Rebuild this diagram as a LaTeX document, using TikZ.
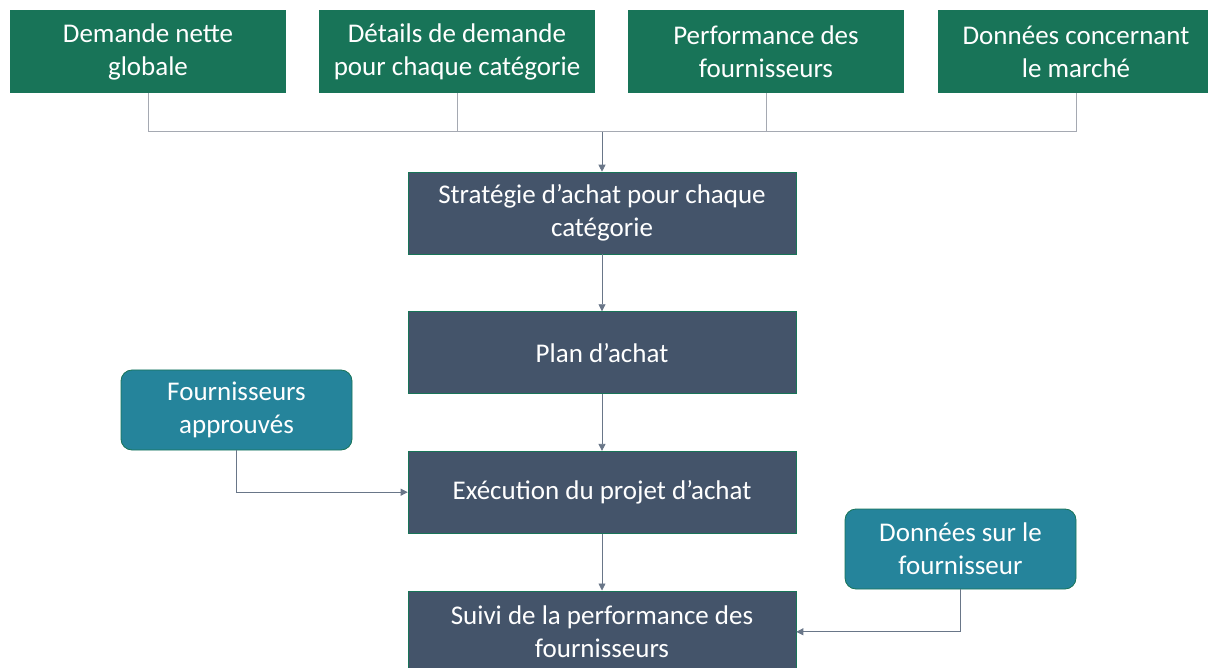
\documentclass[tikz,border=0pt]{standalone}
\usepackage{fontspec}
\setmainfont{Carlito}
\usetikzlibrary{arrows.meta}
\usetikzlibrary{positioning}

\definecolor{topgreen}{RGB}{24,116,88}
\definecolor{slate}{RGB}{68,84,106}
\definecolor{teal}{RGB}{37,132,155}
\definecolor{busgray}{RGB}{165,169,178}

\begin{document}
\begin{tikzpicture}[
	x = 1pt, y = 1pt,
	> = {Triangle[length=7pt, width=7pt]}, % arrow head style
	font = \fontsize{27}{33}\selectfont,
	text = white,
	align = center
	]

	\tikzstyle{source}=[
	fill = topgreen,
	minimum width = 276pt,
	minimum height = 83pt,
	inner sep = 0pt
	]
	\tikzstyle{step box}=[
	fill = slate,
	draw = topgreen,
	line width = 0.6pt,
	minimum width = 388pt,
	minimum height = 82pt,
	inner sep = 0pt
	]
	\tikzstyle{input}=[
	fill = teal,
	draw = topgreen,
	line width = 0.8pt,
	rounded corners = 11pt,
	minimum width = 231pt,
	minimum height = 80pt,
	inner sep = 0pt
	]
	\tikzstyle{bus}=[draw = busgray, line width = 1pt]
	\tikzstyle{flow}=[draw = slate!80, line width = 0.8pt, ->]

	\useasboundingbox (0,0) rectangle (1208,-668);

	% top row of inputs
	\node[source] (demand) at (148,-51.5) {Demande nette\\globale};
	\node[source] (details) at (457,-51.5) {Détails de demande\\pour chaque catégorie};
	\node[source] (perf) at (766,-51.5) {Performance des\\fournisseurs};
	\node[source] (market) at (1076,-51.5) {Données concernant\\le marché};

	% main column
	\node[step box] (strategy) at (602,-213) {Stratégie d’achat pour chaque\\catégorie};
	\node[step box] (plan) [below=57pt of strategy] {Plan d’achat};
	\node[step box] (exec) [below=57pt of plan] {Exécution du projet d’achat};
	\node[step box] (follow) [below=57pt of exec] {Suivi de la performance des\\fournisseurs};

	% side inputs
	\node[input] (approved) at (236.5,-410) {Fournisseurs\\approuvés};
	\node[input] (supdata) at (960.5,-549) {Données sur le\\fournisseur};

	\coordinate (join) at (602,-132);
	\draw[bus] (demand.south) |- (join);
	\draw[bus] (market.south) |- (join);
	\draw[bus] (details.south) -- (details.south |- join);
	\draw[bus] (perf.south) -- (perf.south |- join);

	\draw[flow] (join) -- (strategy);
	\draw[flow] (strategy) -- (plan);
	\draw[flow] (plan) -- (exec);
	\draw[flow] (exec) -- (follow);
	\draw[flow] (approved.south) |- (exec.west);
	\draw[flow] (supdata.south) |- (follow.east);

\end{tikzpicture}
\end{document}
